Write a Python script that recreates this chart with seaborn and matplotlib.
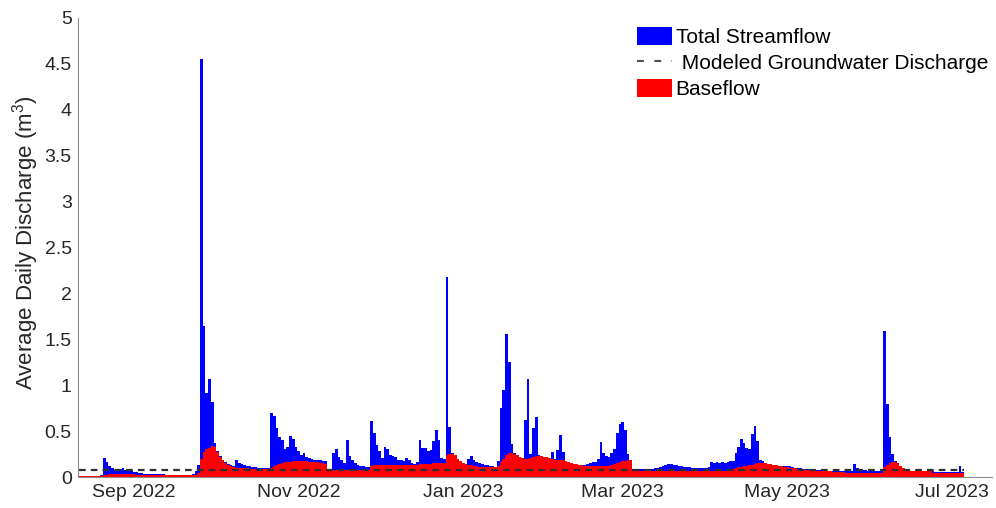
import matplotlib
matplotlib.use("Agg")
import matplotlib.pyplot as plt
import matplotlib.dates as mdates
from matplotlib.patches import Patch
from matplotlib.lines import Line2D
from matplotlib.ticker import FuncFormatter, MultipleLocator
import pandas as pd
import seaborn as sns

# Daily record, one value per day starting on this date
start_date = "2022-08-12"

# Average daily total streamflow
streamflow = [
    0.012, 0.012, 0.013, 0.013, 0.012, 0.012, 0.013, 0.014, 0.018, 0.21,
    0.16, 0.12, 0.10, 0.08, 0.08, 0.09, 0.10, 0.08, 0.07, 0.06,
    0.05, 0.05, 0.04, 0.04, 0.035, 0.035, 0.033, 0.032, 0.031, 0.03,
    0.03, 0.028, 0.027, 0.027, 0.026, 0.026, 0.025, 0.025, 0.025, 0.024,
    0.024, 0.024, 0.03, 0.06, 0.13, 4.55, 1.65, 0.92, 1.07, 0.82,
    0.37, 0.28, 0.23, 0.19, 0.16, 0.14, 0.13, 0.12, 0.19, 0.15,
    0.14, 0.13, 0.12, 0.12, 0.11, 0.11, 0.10, 0.10, 0.10, 0.10,
    0.10, 0.70, 0.66, 0.53, 0.44, 0.40, 0.30, 0.33, 0.45, 0.41,
    0.33, 0.28, 0.24, 0.26, 0.22, 0.21, 0.20, 0.19, 0.18, 0.18,
    0.17, 0.17, 0.08, 0.08, 0.26, 0.30, 0.22, 0.18, 0.15, 0.40,
    0.23, 0.18, 0.15, 0.13, 0.12, 0.12, 0.11, 0.11, 0.61, 0.48,
    0.35, 0.28, 0.21, 0.33, 0.31, 0.24, 0.23, 0.22, 0.19, 0.18,
    0.17, 0.21, 0.18, 0.15, 0.14, 0.16, 0.40, 0.32, 0.32, 0.28,
    0.29, 0.39, 0.51, 0.40, 0.21, 0.20, 2.18, 0.55, 0.26, 0.24,
    0.20, 0.17, 0.15, 0.14, 0.20, 0.23, 0.18, 0.16, 0.15, 0.14,
    0.13, 0.13, 0.12, 0.12, 0.11, 0.17, 0.75, 0.95, 1.56, 1.25,
    0.36, 0.26, 0.24, 0.22, 0.21, 0.62, 1.07, 0.25, 0.53, 0.65,
    0.24, 0.23, 0.22, 0.22, 0.21, 0.27, 0.20, 0.29, 0.46, 0.27,
    0.17, 0.16, 0.15, 0.14, 0.14, 0.13, 0.13, 0.13, 0.14, 0.15,
    0.16, 0.16, 0.20, 0.38, 0.26, 0.23, 0.22, 0.26, 0.31, 0.48,
    0.58, 0.60, 0.51, 0.25, 0.18, 0.09, 0.09, 0.09, 0.09, 0.09,
    0.09, 0.09, 0.09, 0.10, 0.10, 0.11, 0.12, 0.13, 0.14, 0.14,
    0.13, 0.13, 0.12, 0.12, 0.11, 0.11, 0.11, 0.10, 0.10, 0.10,
    0.10, 0.10, 0.10, 0.11, 0.16, 0.15, 0.16, 0.15, 0.16, 0.15,
    0.16, 0.17, 0.17, 0.26, 0.33, 0.41, 0.37, 0.32, 0.30, 0.47,
    0.56, 0.39, 0.19, 0.17, 0.15, 0.14, 0.14, 0.13, 0.13, 0.12,
    0.12, 0.12, 0.12, 0.12, 0.11, 0.10, 0.10, 0.10, 0.09, 0.09,
    0.09, 0.09, 0.08, 0.08, 0.08, 0.08, 0.07, 0.07, 0.07, 0.07,
    0.07, 0.06, 0.06, 0.06, 0.06, 0.06, 0.07, 0.14, 0.10, 0.09,
    0.08, 0.08, 0.07, 0.07, 0.07, 0.07, 0.07, 0.08, 1.59, 0.79,
    0.44, 0.25, 0.17, 0.15, 0.12, 0.10, 0.09, 0.08, 0.07, 0.07,
    0.07, 0.06, 0.06, 0.06, 0.06, 0.06, 0.06, 0.05, 0.05, 0.05,
    0.05, 0.05, 0.05, 0.05, 0.05, 0.05, 0.12, 0.05,
]

# Average daily baseflow separated from the streamflow record
baseflow = [
    0.006, 0.006, 0.006, 0.006, 0.006, 0.006, 0.006, 0.006, 0.006, 0.02,
    0.025, 0.028, 0.03, 0.03, 0.03, 0.03, 0.03, 0.03, 0.03, 0.03,
    0.028, 0.026, 0.025, 0.025, 0.024, 0.024, 0.023, 0.023, 0.022, 0.022,
    0.022, 0.021, 0.021, 0.021, 0.02, 0.02, 0.02, 0.02, 0.02, 0.02,
    0.02, 0.02, 0.02, 0.02, 0.04, 0.20, 0.27, 0.30, 0.32, 0.34,
    0.33, 0.27, 0.22, 0.18, 0.15, 0.13, 0.12, 0.11, 0.10, 0.10,
    0.10, 0.10, 0.10, 0.09, 0.09, 0.09, 0.09, 0.09, 0.09, 0.09,
    0.09, 0.10, 0.12, 0.13, 0.14, 0.15, 0.16, 0.16, 0.16, 0.17,
    0.17, 0.17, 0.17, 0.17, 0.17, 0.16, 0.16, 0.16, 0.16, 0.15,
    0.15, 0.14, 0.08, 0.08, 0.08, 0.08, 0.08, 0.08, 0.08, 0.08,
    0.08, 0.08, 0.08, 0.08, 0.08, 0.08, 0.08, 0.08, 0.12, 0.13,
    0.13, 0.13, 0.13, 0.13, 0.13, 0.13, 0.13, 0.13, 0.13, 0.13,
    0.13, 0.13, 0.13, 0.13, 0.13, 0.13, 0.14, 0.14, 0.14, 0.14,
    0.14, 0.15, 0.15, 0.15, 0.15, 0.15, 0.24, 0.25, 0.25, 0.24,
    0.20, 0.17, 0.15, 0.14, 0.13, 0.13, 0.12, 0.12, 0.11, 0.11,
    0.11, 0.11, 0.11, 0.11, 0.11, 0.12, 0.16, 0.20, 0.24, 0.26,
    0.26, 0.25, 0.24, 0.22, 0.21, 0.20, 0.20, 0.21, 0.22, 0.23,
    0.23, 0.23, 0.22, 0.22, 0.21, 0.20, 0.19, 0.19, 0.18, 0.18,
    0.17, 0.16, 0.15, 0.14, 0.14, 0.13, 0.13, 0.12, 0.12, 0.12,
    0.12, 0.12, 0.12, 0.12, 0.12, 0.12, 0.12, 0.13, 0.14, 0.15,
    0.16, 0.17, 0.17, 0.18, 0.18, 0.07, 0.07, 0.07, 0.07, 0.07,
    0.07, 0.07, 0.07, 0.07, 0.07, 0.07, 0.07, 0.07, 0.07, 0.07,
    0.07, 0.07, 0.07, 0.07, 0.07, 0.07, 0.07, 0.07, 0.07, 0.07,
    0.07, 0.07, 0.07, 0.07, 0.07, 0.07, 0.07, 0.07, 0.07, 0.07,
    0.07, 0.08, 0.09, 0.10, 0.11, 0.11, 0.12, 0.12, 0.13, 0.13,
    0.14, 0.15, 0.15, 0.15, 0.15, 0.14, 0.14, 0.13, 0.13, 0.12,
    0.12, 0.11, 0.11, 0.10, 0.10, 0.10, 0.09, 0.09, 0.09, 0.08,
    0.08, 0.08, 0.07, 0.07, 0.07, 0.06, 0.06, 0.06, 0.06, 0.05,
    0.05, 0.05, 0.05, 0.05, 0.04, 0.04, 0.04, 0.04, 0.04, 0.04,
    0.04, 0.04, 0.04, 0.04, 0.04, 0.04, 0.04, 0.04, 0.11, 0.13,
    0.15, 0.16, 0.16, 0.15, 0.12, 0.10, 0.08, 0.07, 0.07, 0.06,
    0.06, 0.06, 0.06, 0.06, 0.06, 0.06, 0.04, 0.04, 0.04, 0.04,
    0.04, 0.04, 0.04, 0.04, 0.04, 0.04, 0.04, 0.04,
]

# Modeled groundwater discharge (constant rate)
groundwater_discharge = 0.075

# Tick months and axis labels
tick_months = [9, 11, 1, 3, 5, 7]
y_label = "Average Daily Discharge (m$^{3}$)"
legend_labels = ["Total Streamflow", " Modeled Groundwater Discharge", "Baseflow"]

dates = pd.date_range(start_date, periods=len(streamflow), freq="D")
day_num = mdates.date2num(dates.to_pydatetime())
df = pd.DataFrame({"day": day_num, "total": streamflow, "base": baseflow})

sns.set_theme(style="white")
plt.rcParams["font.family"] = ["Liberation Sans", "DejaVu Sans"]
plt.rcParams["mathtext.default"] = "regular"

text_color = "#262626"
blue = "#0000FF"
red = "#FF0000"

fig = plt.figure(figsize=(9.96, 5.08), dpi=100)
ax = fig.add_axes([78 / 996, 31 / 508, 914 / 996, 459 / 508])

sns.barplot(data=df, x="day", y="total", native_scale=True, orient="x",
            width=1.0, color=blue, saturation=1, errorbar=None,
            linewidth=0, ax=ax)
sns.barplot(data=df, x="day", y="base", native_scale=True, orient="x",
            width=1.0, color=red, saturation=1, errorbar=None,
            linewidth=0, ax=ax)

# Groundwater discharge line across the record
gw_df = pd.DataFrame({"day": [day_num[0] - 0.5, day_num[-1] + 0.5],
                      "q": [groundwater_discharge, groundwater_discharge]})
sns.lineplot(data=gw_df, x="day", y="q", color="#303030", linewidth=1.6,
             dashes=False, ax=ax)
ax.lines[-1].set_dashes((3.0, 2.3))

ax.set_xlim(day_num[0] - 0.7, day_num[0] - 0.7 + 338.5)
ax.set_ylim(0, 5)

ax.xaxis.set_major_locator(mdates.MonthLocator(bymonth=tick_months))
ax.xaxis.set_major_formatter(mdates.DateFormatter("%b %Y"))
ax.yaxis.set_major_locator(MultipleLocator(0.5))
ax.yaxis.set_major_formatter(FuncFormatter(lambda v, p: f"{v:g}"))

ax.set_xlabel("")
ax.set_ylabel(y_label, fontsize=16, color=text_color)
ax.yaxis.set_label_coords(-0.041, 0.51)

ax.tick_params(axis="both", direction="in", length=4, width=0.6,
               colors=text_color, labelsize=14)
ax.tick_params(axis="y", pad=4.5)
ax.tick_params(axis="x", pad=5)

for side in ("top", "right"):
    ax.spines[side].set_visible(False)
for side in ("left", "bottom"):
    ax.spines[side].set_color("#8c8c8c")
    ax.spines[side].set_linewidth(0.8)

handles = [
    Patch(facecolor=blue, edgecolor="none"),
    Line2D([], [], color="#505050", linewidth=1.5, dashes=(3.3, 5.0)),
    Patch(facecolor=red, edgecolor="none"),
]
leg = ax.legend(handles, legend_labels, loc="upper left",
                bbox_to_anchor=(637 / 996, 1 - 27 / 508),
                bbox_transform=fig.transFigure, frameon=False,
                fontsize=15, handlelength=1.7, handleheight=0.95,
                handletextpad=0.15, labelspacing=0.27, borderpad=0,
                borderaxespad=0)
for t in leg.get_texts():
    t.set_color("black")

fig.savefig("out.png", dpi=100)
